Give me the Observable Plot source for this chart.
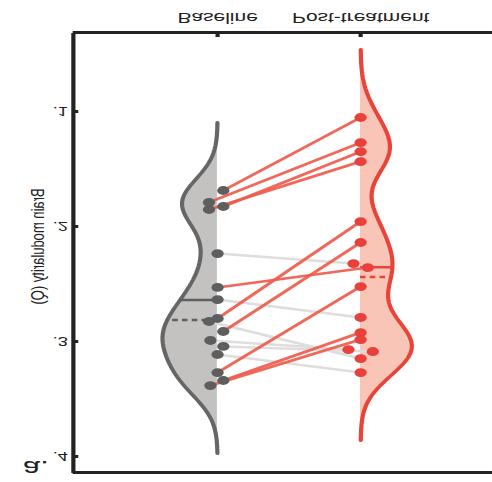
<!DOCTYPE html>
<html><head><meta charset="utf-8">
<script src="https://cdn.jsdelivr.net/npm/d3@7"></script>
<script src="https://cdn.jsdelivr.net/npm/@observablehq/plot@0.6"></script>
<style>
html,body{margin:0;padding:0;background:#fff;}
#wrap{width:492px;height:482px;overflow:hidden;position:relative;background:#fff;}
#chart{position:absolute;left:0;top:0;transform-origin:0 50%;transform:scale(1.3977,-1);}
</style></head><body><div id="wrap"><div id="chart"></div></div>
<script>
// ---- data ----
const groups = ["Baseline", "Post-treatment"];
const baseline = [0.1687,0.1791,0.1826,0.1852,0.2235,0.2530,0.2635,0.2800,0.2826,0.2913,0.2991,0.3043,0.3113,0.3270,0.3339,0.3383];
const post     = [0.1052,0.1270,0.1348,0.1435,0.2322,0.2357,0.2791,0.1957,0.3148,0.2139,0.3070,0.3087,0.3270,0.2522,0.2922,0.2983];
const jitterBaseline = [0.04,-0.06,0.04,-0.06,0,0,0,0,-0.06,0.04,-0.05,0.04,0,0,0.04,-0.05];
const jitterPost     = [0,0,0,0,-0.05,0.05,0,0,0,0,-0.085,0.085,0,0,0,0];
const yTicks = [0.1, 0.2, 0.3, 0.4];
const yLabel = "Brain modularity (Q)";
const panelLabel = "a.";

// ---- derived ----
const bw = 0.0197;
function density(vals, y) {
  return d3.sum(vals, v => Math.exp(-0.5 * ((y - v) / bw) ** 2)) / (vals.length * bw * Math.sqrt(2 * Math.PI));
}
function kde(vals) {
  const lo = d3.min(vals) - 3 * bw, hi = d3.max(vals) + 3 * bw, n = 100;
  return d3.range(n).map(i => { const y = lo + (hi - lo) * i / (n - 1); return {y, d: density(vals, y)}; });
}
const kB = kde(baseline), kP = kde(post);
const k = 0.385 / d3.max(kB, d => d.d);
const pairs = baseline.map((b, i) => ({
  b, p: post[i],
  xb: 0 + jitterBaseline[i], xp: 1 + jitterPost[i],
  up: post[i] >= b
}));
const ptsB = baseline.map((v, i) => ({x: jitterBaseline[i], y: v}));
const ptsP = post.map((v, i) => ({x: 1 + jitterPost[i], y: v}));
const mB = d3.mean(baseline), mdB = d3.median(baseline);
const mP = d3.mean(post), mdP = d3.median(post);
const meanB = [{y: mB, x1: 0, x2: -density(baseline, mB) * k}];
const medB = [{y: mdB, x1: 0, x2: -density(baseline, mdB) * k}];
const meanP = [{y: mP, x1: 1, x2: 1 + density(post, mP) * k}];
const medP = [{y: mdP, x1: 1, x2: 1 + density(post, mdP) * k}];

const xDomain = [-1.008, 1.923];
const yDomain = [0.0313, 0.4139];
const axisColor = "#222";

const chart = Plot.plot({
  width: 352, height: 482,
  marginLeft: 52, marginRight: 0, marginTop: 9, marginBottom: 33,
  x: {domain: xDomain},
  y: {domain: yDomain},
  style: {background: "white", fontFamily: "'Liberation Sans', Arial, Helvetica, sans-serif", color: axisColor, overflow: "visible"},
  marks: [
    Plot.areaX(kB, {y: "y", x1: 0, x2: d => -d.d * k, fill: "#c4c1c1"}),
    Plot.areaX(kP, {y: "y", x1: 1, x2: d => 1 + d.d * k, fill: "#f8c5b6"}),
    Plot.lineX(kB, {y: "y", x: d => -d.d * k, stroke: "#666666", strokeWidth: 3}),
    Plot.lineX(kP, {y: "y", x: d => 1 + d.d * k, stroke: "#e8443a", strokeWidth: 3}),
    Plot.ruleY(meanB, {y: "y", x1: "x1", x2: "x2", stroke: "#5f5f5f", strokeWidth: 2.5}),
    Plot.ruleY(medB, {y: "y", x1: "x1", x2: "x2", stroke: "#5f5f5f", strokeWidth: 2.5, strokeDasharray: "4,3"}),
    Plot.ruleY(meanP, {y: "y", x1: "x1", x2: "x2", stroke: "#e8443a", strokeWidth: 2.5}),
    Plot.ruleY(medP, {y: "y", x1: "x1", x2: "x2", stroke: "#e8443a", strokeWidth: 2.5, strokeDasharray: "4,3"}),
    Plot.link(pairs.filter(d => d.up), {x1: "xb", y1: "b", x2: "xp", y2: "p", stroke: "#dedede", strokeWidth: 2.6}),
    Plot.link(pairs.filter(d => !d.up), {x1: "xb", y1: "b", x2: "xp", y2: "p", stroke: "#ee5b4b", strokeOpacity: 0.92, strokeWidth: 2.6}),
    Plot.dot(ptsB, {x: "x", y: "y", r: 4.4, fill: "#5e5e5e"}),
    Plot.dot(ptsP, {x: "x", y: "y", r: 4.4, fill: "#e8403a"}),
    Plot.ruleX([xDomain[0]], {stroke: axisColor, strokeWidth: 3}),
    Plot.ruleY(yDomain, {stroke: axisColor, strokeWidth: 3}),
    Plot.axisY({ticks: yTicks, tickFormat: d => d.toFixed(1).replace(/^0/, ""), tickSize: -4, tickPadding: 8, strokeWidth: 3, fontSize: 13, label: null, color: axisColor}),
    Plot.axisX({ticks: [0, 1], tickFormat: d => groups[d], tickSize: -4, tickPadding: 13, strokeWidth: 3, fontSize: 15, label: null, color: axisColor}),
    Plot.text([yLabel], {frameAnchor: "left", dx: -25, dy: 6, rotate: -90, fontSize: 13, textAnchor: "middle", lineAnchor: "middle", fill: axisColor}),
    Plot.text([panelLabel], {frameAnchor: "top-left", dx: -36, dy: -4, fontSize: 22, textAnchor: "start", lineAnchor: "top", fill: axisColor})
  ]
});
document.getElementById("chart").appendChild(chart);
</script>
</body></html>
